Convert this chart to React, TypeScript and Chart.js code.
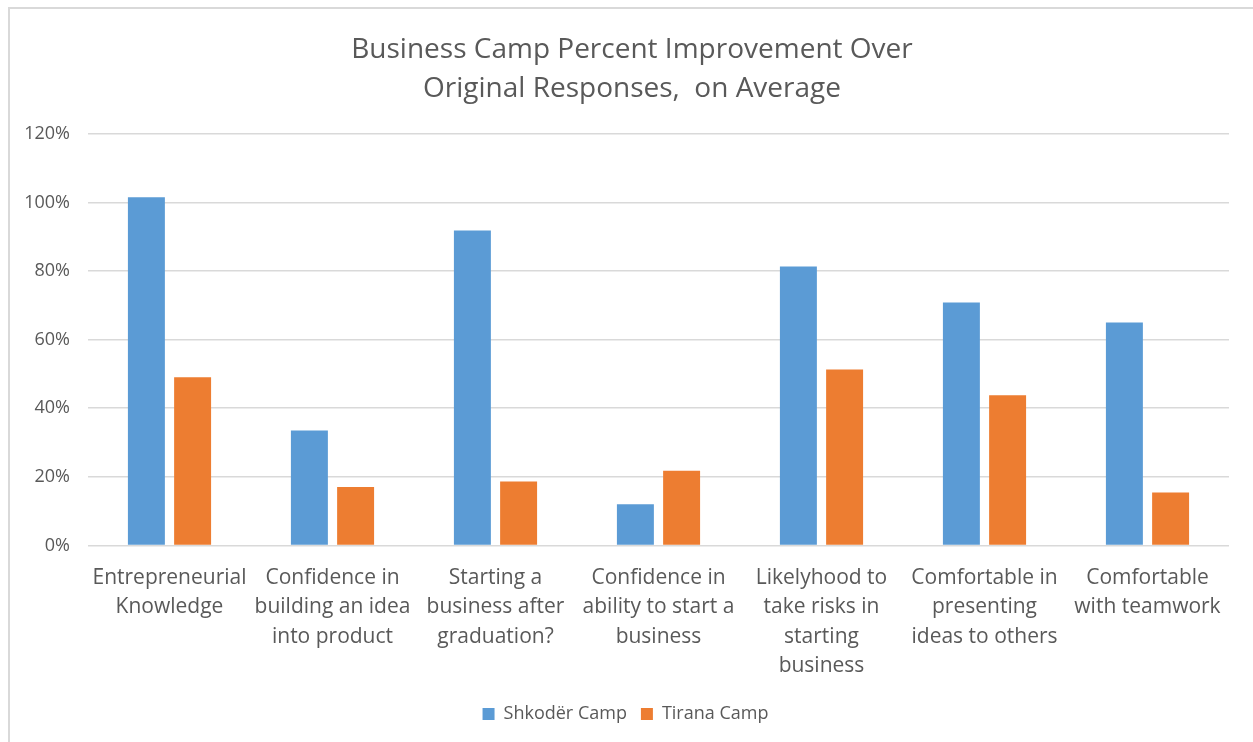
import React, { useEffect, useRef } from "react";
import { Chart, registerables } from "chart.js";

Chart.register(...registerables);

const categories: string[][] = [
  ["Entrepreneurial", "Knowledge"],
  ["Confidence in", "building an idea", "into product"],
  ["Starting a", "business after", "graduation?"],
  ["Confidence in", "ability to start a", "business"],
  ["Likelyhood to", "take risks in", "starting", "business"],
  ["Comfortable in", "presenting", "ideas to others"],
  ["Comfortable", "with teamwork"],
];

const shkoderValues = [101.5, 33.5, 91.8, 12, 81.3, 70.8, 65];
const tiranaValues = [49, 17, 18.6, 21.8, 51.3, 43.8, 15.4];

const titleLines = ["Business Camp Percent Improvement Over", "Original Responses,  on Average"];
const seriesNames = ["Shkodër Camp", "Tirana Camp"];

const FONT = "'Open Sans', 'Noto Sans', sans-serif";
const TEXT = "#595959";

const borderPlugin = {
  id: "outerBorder",
  afterLayout(chart: any) {
    if (chart.titleBlock) {
      chart.titleBlock.left = 35;
    }
  },
  beforeDraw(chart: any) {
    const ctx = chart.ctx;
    ctx.save();
    ctx.fillStyle = "#ffffff";
    ctx.fillRect(0, 0, chart.width, chart.height);
    ctx.strokeStyle = "#d9d9d9";
    ctx.lineWidth = 2;
    ctx.beginPath();
    ctx.moveTo(9, chart.height + 5);
    ctx.lineTo(9, 8);
    ctx.lineTo(chart.width + 5, 8);
    ctx.stroke();
    ctx.restore();
  },
};

export default function App() {
  const canvasRef = useRef<HTMLCanvasElement | null>(null);

  useEffect(() => {
    document.body.style.margin = "0";
    document.body.style.overflow = "hidden";
    const canvas = canvasRef.current;
    if (!canvas) return;
    const chart = new Chart(canvas, {
      type: "bar",
      data: {
        labels: categories,
        datasets: [
          {
            label: seriesNames[0],
            data: shkoderValues,
            backgroundColor: "#5B9BD5",
            categoryPercentage: 0.567,
            barPercentage: 0.8,
          },
          {
            label: seriesNames[1],
            data: tiranaValues,
            backgroundColor: "#ED7D31",
            categoryPercentage: 0.567,
            barPercentage: 0.8,
          },
        ],
      },
      options: {
        animation: false,
        responsive: false,
        layout: { padding: { left: 22, right: 24, top: 8, bottom: 9 } },
        plugins: {
          title: {
            display: true,
            text: titleLines,
            color: TEXT,
            font: { family: FONT, size: 28, weight: "normal", lineHeight: 1.39 },
            padding: { top: 22.5, bottom: 25.5 },
          },
          legend: {
            position: "bottom",
            labels: {
              color: TEXT,
              font: { family: FONT, size: 18 },
              boxWidth: 12,
              boxHeight: 12,
              padding: 14,
            },
          },
          tooltip: { enabled: false },
        },
        scales: {
          x: {
            grid: { display: false },
            border: { display: false },
            afterFit: (s: any) => {
              s.paddingLeft = 0;
              s.paddingRight = 0;
            },
            ticks: {
              color: TEXT,
              font: { family: FONT, size: 21, lineHeight: 1.4 },
              maxRotation: 0,
              autoSkip: false,
              padding: 10,
            },
          },
          y: {
            min: 0,
            max: 120,
            grid: { color: "#d9d9d9", lineWidth: 1.5, drawTicks: false },
            border: { display: false },
            afterFit: (s: any) => {
              s.width = 66;
            },
            ticks: {
              stepSize: 20,
              color: TEXT,
              font: { family: FONT, size: 18 },
              padding: 18,
              callback: (v: any) => v + "%",
            },
          },
        },
      },
      plugins: [borderPlugin],
    });
    return () => chart.destroy();
  }, []);

  return (
    <div style={{ width: 1253, height: 742, position: "relative" }}>
      <canvas ref={canvasRef} width={1253} height={742} />
    </div>
  );
}
